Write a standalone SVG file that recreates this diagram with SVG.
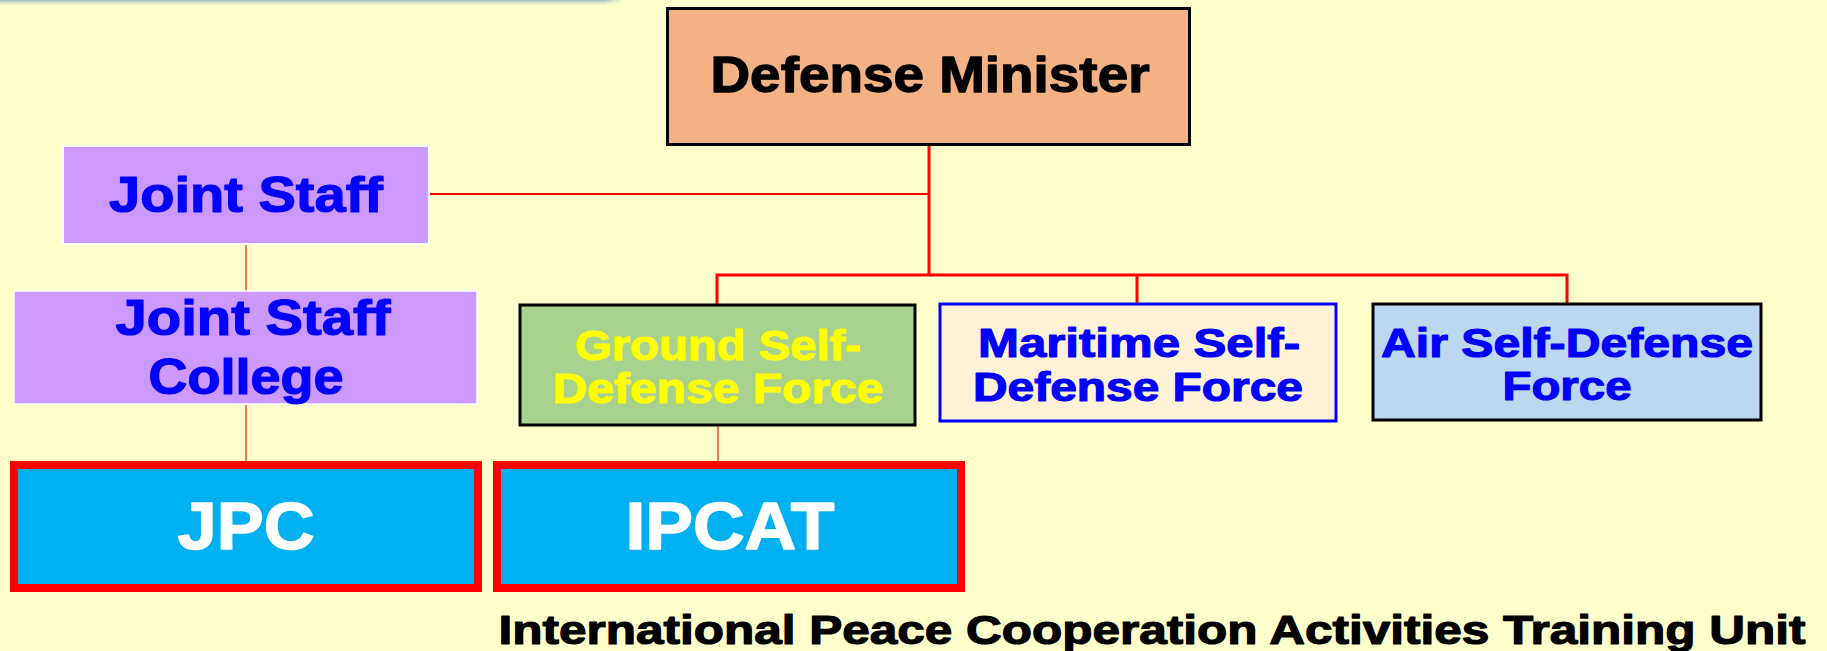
<svg xmlns="http://www.w3.org/2000/svg" width="1827" height="651" viewBox="0 0 1827 651">
  <defs>
    <linearGradient id="topShadow" x1="0" y1="0" x2="0" y2="1">
      <stop offset="0" stop-color="#98B2C6"/>
      <stop offset="1" stop-color="#FFFFCC" stop-opacity="0"/>
    </linearGradient>
    <linearGradient id="topShadowH" x1="0" y1="0" x2="1" y2="0">
      <stop offset="0.97" stop-color="#FFFFFF"/>
      <stop offset="1" stop-color="#FFFFFF" stop-opacity="0"/>
    </linearGradient>
    <mask id="fadeEnd">
      <rect x="0" y="0" width="622" height="8" fill="url(#topShadowH)"/>
    </mask>
    <style>
      text { font-family: "Liberation Sans", Arial, sans-serif; font-weight: bold; text-anchor: middle; stroke-linejoin: round; }
      .thick { stroke: #FF0000; stroke-width: 3; fill: none; }
      .mid { stroke: #FF0000; stroke-width: 2; fill: none; }
      .thin { stroke: #FF4433; stroke-width: 1.5; fill: none; }
      .blueTxt { fill: #0000FF; stroke: #0000FF; stroke-width: 1.2; }
      .unit { fill: #00B0F0; stroke: #FF0000; stroke-width: 8; }
      .unitTxt { fill: #FFFFFF; stroke: #FFFFFF; stroke-width: 1.5; font-size: 67px; }
    </style>
  </defs>
  <rect x="0" y="0" width="1827" height="651" fill="#FFFFCC"/>
  <rect x="0" y="0" width="622" height="7" fill="url(#topShadow)" mask="url(#fadeEnd)"/>

  <g id="connectors">
    <path class="thick" d="M929 145 V275"/>
    <path class="mid" d="M429 194 H929"/>
    <path class="thick" d="M717 304 V275 H1567 V304"/>
    <path class="thick" d="M1137 275 V304"/>
    <path class="thin" d="M246 244 V291"/>
    <path class="thin" d="M246 404 V461"/>
    <path class="thin" d="M718 426 V461"/>
  </g>

  <g id="defense-minister">
    <rect x="667.5" y="8.5" width="522" height="136" fill="#F4B183" stroke="#000000" stroke-width="3"/>
    <text x="930" y="92" font-size="50" fill="#000000" stroke="#000000" stroke-width="1.3" textLength="439" lengthAdjust="spacingAndGlyphs">Defense Minister</text>
  </g>

  <g id="joint-staff">
    <rect x="63" y="146" width="366" height="98" fill="#CC99FF" stroke="#FFFFFF" stroke-width="2"/>
    <text class="blueTxt" x="246" y="212" font-size="50" textLength="274" lengthAdjust="spacingAndGlyphs">Joint Staff</text>
  </g>

  <g id="joint-staff-college">
    <rect x="14" y="291" width="463" height="113" fill="#CC99FF" stroke="#FFFFFF" stroke-width="1.5"/>
    <text class="blueTxt" x="253" y="335" font-size="50" textLength="275" lengthAdjust="spacingAndGlyphs">Joint Staff</text>
    <text class="blueTxt" x="246" y="394" font-size="50" textLength="195" lengthAdjust="spacingAndGlyphs">College</text>
  </g>

  <g id="gsdf">
    <rect x="520" y="305" width="395" height="120" fill="#A9D18E" stroke="#000000" stroke-width="3"/>
    <text x="718" y="360" font-size="42" fill="#FFFF00" stroke="#FFFF00" stroke-width="1.1" textLength="286" lengthAdjust="spacingAndGlyphs">Ground Self-</text>
    <text x="718" y="403" font-size="42" fill="#FFFF00" stroke="#FFFF00" stroke-width="1.1" textLength="331" lengthAdjust="spacingAndGlyphs">Defense Force</text>
  </g>

  <g id="msdf">
    <rect x="940" y="304" width="396" height="117" fill="#FFF2D6" stroke="#0000FF" stroke-width="3"/>
    <text class="blueTxt" x="1139" y="357" font-size="41" textLength="322" lengthAdjust="spacingAndGlyphs">Maritime Self-</text>
    <text class="blueTxt" x="1138" y="401" font-size="41" textLength="330" lengthAdjust="spacingAndGlyphs">Defense Force</text>
  </g>

  <g id="asdf">
    <rect x="1373" y="304" width="388" height="116" fill="#BDD7EE" stroke="#000000" stroke-width="3"/>
    <text class="blueTxt" x="1567" y="357" font-size="41" textLength="372" lengthAdjust="spacingAndGlyphs">Air Self-Defense</text>
    <text class="blueTxt" x="1567" y="400" font-size="41" textLength="129" lengthAdjust="spacingAndGlyphs">Force</text>
  </g>

  <g id="jpc">
    <rect class="unit" x="14" y="465" width="464" height="123"/>
    <text class="unitTxt" x="246" y="549" textLength="137" lengthAdjust="spacingAndGlyphs">JPC</text>
  </g>

  <g id="ipcat">
    <rect class="unit" x="497" y="465" width="464" height="123"/>
    <text class="unitTxt" x="730" y="549" textLength="209" lengthAdjust="spacingAndGlyphs">IPCAT</text>
  </g>

  <g id="caption">
    <text x="1152" y="644" font-size="41" fill="#000000" stroke="#000000" stroke-width="1.2" textLength="1307" lengthAdjust="spacingAndGlyphs">International Peace Cooperation Activities Training Unit</text>
  </g>
</svg>
